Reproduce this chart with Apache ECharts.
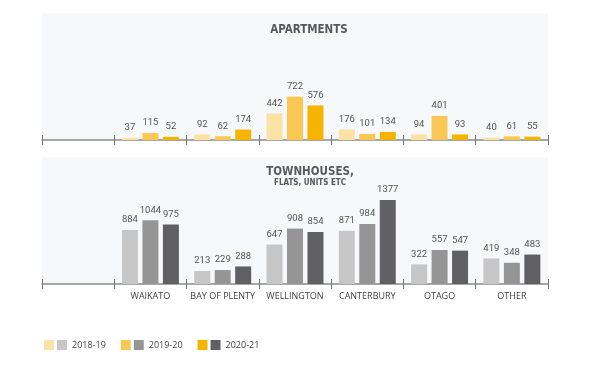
<!DOCTYPE html>
<html>
<head>
<meta charset="utf-8">
<script src="https://cdn.jsdelivr.net/npm/echarts@6/dist/echarts.min.js"></script>
<style>
html,body{margin:0;padding:0;background:#fff;}
#main{width:600px;height:366px;}
</style>
</head>
<body>
<div id="main"></div>
<script>
const categories = ['', 'WAIKATO', 'BAY OF PLENTY', 'WELLINGTON', 'CANTERBURY', 'OTAGO', 'OTHER'];
const years = ['2018-19', '2019-20', '2020-21'];
const apt1819 = [null, 37, 92, 442, 176, 94, 40];
const apt1920 = [null, 115, 62, 722, 101, 401, 61];
const apt2021 = [null, 52, 174, 576, 134, 93, 55];
const th1819 = [null, 884, 213, 647, 871, 322, 419];
const th1920 = [null, 1044, 229, 908, 984, 557, 348];
const th2021 = [null, 975, 288, 854, 1377, 547, 483];
const aptTitle = 'APARTMENTS';
const thTitle = 'TOWNHOUSES,';
const thSubtitle = 'FLATS, UNITS ETC';

const aptColors = ['#fde2a6', '#f9c854', '#f5b400'];
const thColors = ['#c6c6c6', '#959595', '#606064'];

const chart = echarts.init(document.getElementById('main'), null, {renderer: 'canvas'});

const labelFont = 'Open Sans';
function mkX(gridIndex, withLabels, inside) {
  return {
    type: 'category', gridIndex: gridIndex, data: categories, position: 'bottom',
    boundaryGap: true,
    axisLine: {show: !inside, lineStyle: {color: '#8a8a8a', width: 1.5}},
    axisTick: {show: true, interval: 0, inside: inside, length: 5, lineStyle: {color: '#777', width: 1}},
    axisLabel: {show: withLabels && !inside, interval: 0, margin: 8, color: '#3f3f3f', fontSize: 9, fontFamily: labelFont},
    splitLine: {show: false}
  };
}
function mkBar(name, data, color, xi, yi) {
  return {
    type: 'bar', name: name, data: data, xAxisIndex: xi, yAxisIndex: yi,
    barWidth: 16, barGap: '28%',
    itemStyle: {color: color},
    label: {show: true, position: 'top', distance: 5, color: '#555', fontSize: 9.5, fontFamily: 'Roboto'},
    emphasis: {disabled: true}
  };
}
const aptData = [apt1819, apt1920, apt2021];
const thData = [th1819, th1920, th2021];
const series = [];
years.forEach((y, i) => series.push(mkBar('Apartments ' + y, aptData[i], aptColors[i], 0, 0)));
years.forEach((y, i) => series.push(mkBar('Townhouses ' + y, thData[i], thColors[i], 2, 1)));

const legendBase = {
  top: 340, padding: 0, itemWidth: 10, itemHeight: 10, itemGap: 28, icon: 'rect',
  selectedMode: false, formatter: n => n.split(' ')[1]
};

chart.setOption({
  animation: false,
  backgroundColor: '#ffffff',
  grid: [
    {left: 42, right: 52, top: 13, height: 127, show: true, backgroundColor: '#f7f8fa', borderWidth: 0},
    {left: 42, right: 52, top: 157, height: 127, show: true, backgroundColor: '#f7f8fa', borderWidth: 0}
  ],
  xAxis: [mkX(0, false, false), mkX(0, false, true), mkX(1, true, false), mkX(1, true, true)],
  yAxis: [
    {type: 'value', gridIndex: 0, min: 0, max: 2117, show: false, splitLine: {show: false}},
    {type: 'value', gridIndex: 1, min: 0, max: 2082, show: false, splitLine: {show: false}}
  ],
  legend: [
    Object.assign({}, legendBase, {left: 44, data: years.map(y => 'Apartments ' + y),
      textStyle: {color: 'rgba(0,0,0,0)', fontSize: 9, fontFamily: labelFont}}),
    Object.assign({}, legendBase, {left: 57, data: years.map(y => 'Townhouses ' + y),
      textStyle: {color: '#444', fontSize: 9, fontFamily: labelFont}})
  ],
  graphic: [
    {type: 'text', x: 309, y: 30, style: {text: aptTitle, textAlign: 'center', textVerticalAlign: 'middle',
      font: 'bold 11.5px "DejaVu Sans Condensed"', fill: '#595959'}},
    {type: 'text', x: 310, y: 172, style: {text: thTitle, textAlign: 'center', textVerticalAlign: 'middle',
      font: 'bold 11.5px "DejaVu Sans Condensed"', fill: '#595959'}},
    {type: 'text', x: 310, y: 183, style: {text: thSubtitle, textAlign: 'center', textVerticalAlign: 'middle',
      font: 'bold 8px "DejaVu Sans Condensed"', fill: '#595959'}}
  ],
  series: series
});
</script>
</body>
</html>
